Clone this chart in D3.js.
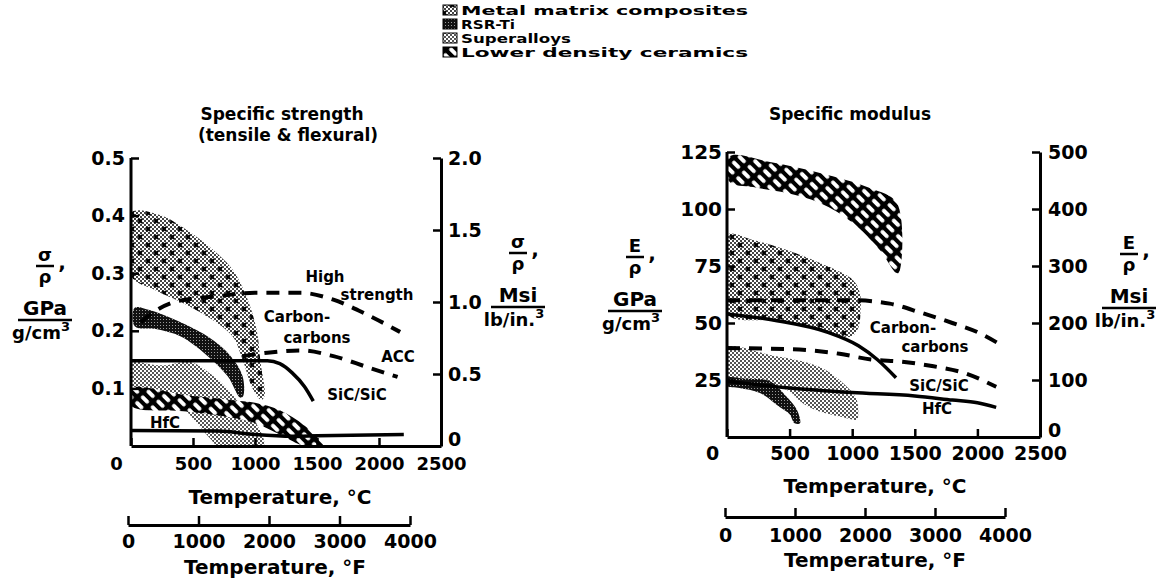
<!DOCTYPE html>
<html><head><meta charset="utf-8">
<script src="https://cdn.jsdelivr.net/npm/d3@7"></script>
<style>
body{margin:0;background:#fff}
svg{display:block;background:#fff}
text{font-family:"DejaVu Sans",sans-serif;font-weight:bold;fill:#000}
</style>
</head><body><svg id="c" width="1168" height="585"></svg>
<script>
// ---------- DATA ----------
// Temperature axes
const tempTicksC = [0, 500, 1000, 1500, 2000, 2500];
const tempTicksF = [0, 1000, 2000, 3000, 4000];
// Specific strength panel, GPa/(g/cm3) : [°C, value]
const strengthTicks = [0.1, 0.2, 0.3, 0.4, 0.5];
const strengthTicksMsi = [0, 0.5, 1.0, 1.5, 2.0];
const mmcStrengthUpper = [[0,0.405],[233,0.401],[450,0.375],[659,0.341],[820,0.306],[932,0.259],[1013,0.202],[1045,0.145],[1077,0.087]];
const mmcStrengthLower = [[1050,0.08],[980,0.10],[900,0.15],[820,0.19],[650,0.22],[450,0.245],[200,0.27],[0,0.295]];
const rsrStrengthUpper = [[30,0.24],[150,0.236],[346,0.22],[619,0.19],[804,0.156],[900,0.121],[905,0.087]];
const rsrStrengthLower = [[880,0.084],[780,0.121],[619,0.156],[402,0.19],[200,0.203],[30,0.208]];
const superStrengthUpper = [[0,0.152],[80,0.145],[265,0.14],[480,0.146],[667,0.121],[804,0.093],[908,0.064],[1021,0.035],[1069,0.0]];
const superStrengthLower = [[700,0.0],[650,0.01],[550,0.035],[450,0.06],[300,0.09],[0,0.10]];
const ceramStrengthUpper = [[0,0.10],[450,0.088],[800,0.08],[1000,0.075],[1200,0.062],[1400,0.035],[1550,0.0]];
const ceramStrengthLower = [[1400,0.0],[1200,0.02],[1000,0.04],[800,0.05],[450,0.06],[0,0.07]];
const sicStrength = [[0,0.148],[600,0.148],[1100,0.148],[1200,0.143],[1300,0.127],[1400,0.103],[1470,0.078]];
const hfcStrength = [[0,0.027],[700,0.026],[1000,0.02],[1300,0.017],[1500,0.018],[2200,0.02]];
const hsccStrength = [[80,0.215],[200,0.235],[350,0.25],[700,0.26],[1000,0.266],[1367,0.266],[1632,0.254],[1905,0.228],[2170,0.198]];
const accStrength = [[900,0.156],[1100,0.162],[1367,0.166],[1632,0.156],[1905,0.137],[2150,0.12]];
// Specific modulus panel, GPa/(g/cm3) : [°C, value]
const modulusTicks = [25, 50, 75, 100, 125];
const modulusTicksMsi = [0, 100, 200, 300, 400, 500];
const ceramModUpper = [[20,123],[343,120.6],[742,115.8],[1141,109.2],[1357,102.6],[1372,72]];
const ceramModLower = [[1350,72],[1221,82],[1006,93.9],[742,102.6],[479,107],[208,109.6],[20,112]];
const mmcModUpper = [[0,88.6],[208,86.4],[479,82],[742,76.3],[1006,68.9],[1062,63],[1066,55],[1050,48]];
const mmcModLower = [[990,44],[800,46.5],[423,51],[0,54]];
const superModUpper = [[0,39],[343,36],[742,30.7],[958,22],[1038,16],[1045,8]];
const superModLower = [[1040,7.5],[900,9],[700,12],[600,15],[500,20],[350,23],[0,25]];
const rsrModUpper = [[0,25.9],[150,25.5],[343,24.5],[479,17.5],[559,11.8],[583,6]];
const rsrModLower = [[540,6],[500,10],[423,13],[263,19.3],[100,21.5],[0,22.5]];
const hsccMod = [[0,60],[500,60],[1000,60],[1300,58.5],[1550,54.5],[1800,50],[2000,46],[2200,40]];
const accMod = [[0,39],[500,38.5],[900,36.5],[1150,34],[1400,33],[1650,31],[1900,28],[2150,22]];
const sicMod = [[0,54],[400,51],[800,46],[1050,40],[1200,34],[1350,26]];
const hfcMod = [[0,24.5],[500,21.5],[1000,19.5],[1500,18],[1800,16.2],[2000,15],[2150,13]];
// Legend
const legendItems = ["Metal matrix composites","RSR-Ti","Superalloys","Lower density ceramics"];
const legendFills = ["url(#pmmc)","url(#prsr)","url(#psup)","url(#pcer)"];

// ---------- DRAW ----------
const svg = d3.select("#c");
const defs = svg.append("defs");

const pd = defs.append("pattern").attr("id","pdots").attr("patternUnits","userSpaceOnUse").attr("width",4).attr("height",4);
pd.append("rect").attr("x",0).attr("y",0).attr("width",2).attr("height",2).attr("fill","#444");
pd.append("rect").attr("x",2).attr("y",2).attr("width",2).attr("height",2).attr("fill","#444");

const ps = defs.append("pattern").attr("id","psup").attr("patternUnits","userSpaceOnUse").attr("width",4).attr("height",4);
ps.append("rect").attr("x",0).attr("y",0).attr("width",2).attr("height",2).attr("fill","#555");
ps.append("rect").attr("x",2).attr("y",2).attr("width",2).attr("height",2).attr("fill","#555");

const pm = defs.append("pattern").attr("id","pmmc").attr("patternUnits","userSpaceOnUse").attr("width",16).attr("height",16);
pm.append("rect").attr("width",16).attr("height",16).attr("fill","url(#pdots)");
pm.append("path").attr("d","M2,3 l4,4 m0,-4 l-4,4 M10,11 l4,4 m0,-4 l-4,4").attr("stroke","#000").attr("stroke-width",2);

const pr = defs.append("pattern").attr("id","prsr").attr("patternUnits","userSpaceOnUse").attr("width",3).attr("height",3);
pr.append("rect").attr("width",3).attr("height",3).attr("fill","#111");
pr.append("rect").attr("x",1).attr("y",1).attr("width",1).attr("height",1).attr("fill","#999");

const pc = defs.append("pattern").attr("id","pcer").attr("patternUnits","userSpaceOnUse")
  .attr("width",14).attr("height",8).attr("patternTransform","rotate(45)");
pc.append("rect").attr("width",14).attr("height",8).attr("fill","#000");
pc.append("rect").attr("x",2).attr("y",2).attr("width",10).attr("height",4).attr("rx",2).attr("fill","#fff");

function clip(id, x0, y0, x1, y1){
  defs.append("clipPath").attr("id",id).append("rect").attr("x",x0).attr("y",y0).attr("width",x1-x0).attr("height",y1-y0);
}
function region(g, x, y, upper, lower, fill){
  const pts = upper.concat(lower);
  const gen = d3.line().x(d=>x(d[0])).y(d=>y(d[1])).curve(d3.curveCatmullRomClosed.alpha(0.5));
  g.append("path").attr("d", gen(pts)).attr("fill", fill);
}
function curve(g, x, y, data, dashed, w){
  const gen = d3.line().x(d=>x(d[0])).y(d=>y(d[1])).curve(d3.curveMonotoneX);
  g.append("path").attr("d", gen(data)).attr("fill","none").attr("stroke","#000")
    .attr("stroke-width", w).attr("stroke-dasharray", dashed ? "13,9" : null);
}
function label(g, x, y, txt, size, anchor){
  return g.append("text").attr("x",x).attr("y",y).attr("font-size",size)
    .attr("text-anchor",anchor||"middle").text(txt);
}
function styleAxis(a, fs){
  a.select(".domain").attr("stroke-width",3).attr("stroke","#000");
  a.selectAll(".tick line").attr("stroke-width",2.5).attr("stroke","#000");
  a.selectAll(".tick text").attr("font-size",fs).attr("font-family","DejaVu Sans, sans-serif")
    .attr("font-weight","bold").attr("fill","#000");
}
function fracLabel(g, cx, sym, unitTop, unitBot, yTop){
  label(g, cx, yTop-2, sym, 18);
  g.append("line").attr("x1",cx-9).attr("x2",cx+9).attr("y1",yTop+3).attr("y2",yTop+3).attr("stroke","#000").attr("stroke-width",2.5);
  label(g, cx, yTop+20, "ρ", 18);
  label(g, cx+17, yTop+6, ",", 20);
  label(g, cx, yTop+52, unitTop, 20);
  g.append("line").attr("x1",cx-27).attr("x2",cx+27).attr("y1",yTop+57).attr("y2",yTop+57).attr("stroke","#000").attr("stroke-width",2.5);
  const t = label(g, cx-4, yTop+76, unitBot, 18);
  t.append("tspan").attr("font-size",13).attr("dy",-8).text("3");
}

// ===== Left panel: specific strength =====
const xL = d3.scaleLinear().domain([0,2500]).range([131,441]);
const yL = d3.scaleLinear().domain([0,0.5]).range([446,158]);
const yL2 = d3.scaleLinear().domain([0,2.0]).range([446,158]);
const fL = d3.scaleLinear().domain([0,4000]).range([128,410]);
clip("clipL", 131, 158, 441, 446);
const gL = svg.append("g");
const gLd = gL.append("g").attr("clip-path","url(#clipL)");

region(gLd, xL, yL, mmcStrengthUpper, mmcStrengthLower, "url(#pmmc)");
region(gLd, xL, yL, superStrengthUpper, superStrengthLower, "url(#psup)");
region(gLd, xL, yL, ceramStrengthUpper, ceramStrengthLower, "url(#pcer)");
region(gLd, xL, yL, rsrStrengthUpper, rsrStrengthLower, "url(#prsr)");
curve(gLd, xL, yL, hsccStrength, true, 4);
curve(gLd, xL, yL, accStrength, true, 4);
curve(gLd, xL, yL, sicStrength, false, 3.5);
curve(gLd, xL, yL, hfcStrength, false, 3.5);

let a;
a = gL.append("g").attr("transform",`translate(0,${yL(0)})`)
  .call(d3.axisBottom(xL).tickValues(tempTicksC).tickSizeInner(-8).tickSizeOuter(0).tickPadding(11).tickFormat(d3.format("d")));
styleAxis(a, 18);
a.selectAll(".tick text").filter(d=>d===0).attr("dx",-15);
a = gL.append("g").attr("transform",`translate(${xL(0)},0)`)
  .call(d3.axisLeft(yL).tickValues(strengthTicks).tickSizeInner(-8).tickSizeOuter(0).tickPadding(6).tickFormat(d3.format(".1f")));
a.select(".domain").attr("d",`M0,${yL(0)}V${yL(0.5)}`);
styleAxis(a, 19);
a = gL.append("g").attr("transform",`translate(${xL(2500)},0)`)
  .call(d3.axisRight(yL2).tickValues(strengthTicksMsi).tickSizeInner(-8).tickSizeOuter(0).tickPadding(7).tickFormat(d=>d===0?"0":d.toFixed(1)));
styleAxis(a, 19);
a.selectAll(".tick text").filter(d=>d===0).attr("dy","-0.05em");
a = gL.append("g").attr("transform","translate(0,525)")
  .call(d3.axisBottom(fL).tickValues(tempTicksF).tickSizeInner(-9).tickSizeOuter(0).tickPadding(9.5).tickFormat(d3.format("d")));
styleAxis(a, 19);

label(gL, 280, 504, "Temperature, °C", 20);
label(gL, 275, 574, "Temperature, °F", 20);
label(gL, 282, 120, "Specific strength", 17);
label(gL, 288, 141, "(tensile & flexural)", 17);
fracLabel(gL, 45, "σ", "GPa", "g/cm", 263);
fracLabel(gL, 518, "σ", "Msi", "lb/in.", 250);

label(gL, 325, 282, "High", 15);
label(gL, 377, 300, "strength", 15);
label(gL, 297, 322, "Carbon-", 15);
label(gL, 317, 343, "carbons", 15);
label(gL, 398, 362, "ACC", 15);
label(gL, 357, 400, "SiC/SiC", 15);
label(gL, 165, 428, "HfC", 15);

// ===== Right panel: specific modulus =====
const xR = d3.scaleLinear().domain([0,2500]).range([727,1040]);
const yR = d3.scaleLinear().domain([0,125]).range([437,152]);
const yR2 = d3.scaleLinear().domain([0,500]).range([437,152]);
const fR = d3.scaleLinear().domain([0,4000]).range([725,1005]);
clip("clipR", 727, 152, 1040, 437);
const gR = svg.append("g");
const gRd = gR.append("g").attr("clip-path","url(#clipR)");

region(gRd, xR, yR, ceramModUpper, ceramModLower, "url(#pcer)");
region(gRd, xR, yR, mmcModUpper, mmcModLower, "url(#pmmc)");
region(gRd, xR, yR, superModUpper, superModLower, "url(#psup)");
region(gRd, xR, yR, rsrModUpper, rsrModLower, "url(#prsr)");
curve(gRd, xR, yR, hsccMod, true, 4);
curve(gRd, xR, yR, accMod, true, 4);
curve(gRd, xR, yR, sicMod, false, 3.5);
curve(gRd, xR, yR, hfcMod, false, 3.5);

a = gR.append("g").attr("transform",`translate(0,${yR(0)})`)
  .call(d3.axisBottom(xR).tickValues(tempTicksC).tickSizeInner(-8).tickSizeOuter(0).tickPadding(9.5).tickFormat(d3.format("d")));
styleAxis(a, 19);
a.selectAll(".tick text").filter(d=>d===0).attr("dx",-15);
a = gR.append("g").attr("transform",`translate(${xR(0)},0)`)
  .call(d3.axisLeft(yR).tickValues(modulusTicks).tickSizeInner(-8).tickSizeOuter(0).tickPadding(5).tickFormat(d3.format("d")));
a.select(".domain").attr("d",`M0,${yR(0)}V${yR(125)}`);
styleAxis(a, 20);
a = gR.append("g").attr("transform",`translate(${xR(2500)},0)`)
  .call(d3.axisRight(yR2).tickValues(modulusTicksMsi).tickSizeInner(-8).tickSizeOuter(0).tickPadding(8).tickFormat(d3.format("d")));
styleAxis(a, 19);
a.selectAll(".tick text").filter(d=>d===0).attr("dy","-0.05em");
a = gR.append("g").attr("transform","translate(0,517)")
  .call(d3.axisBottom(fR).tickValues(tempTicksF).tickSizeInner(-9).tickSizeOuter(0).tickPadding(11.5).tickFormat(d3.format("d")));
styleAxis(a, 19);

label(gR, 875, 493, "Temperature, °C", 20);
label(gR, 875, 567, "Temperature, °F", 20);
label(gR, 850, 120, "Specific modulus", 17);
fracLabel(gR, 635, "E", "GPa", "g/cm", 254);
fracLabel(gR, 1129, "E", "Msi", "lb/in.", 251);

label(gR, 903, 333, "Carbon-", 15);
label(gR, 935, 352, "carbons", 15);
label(gR, 939, 391, "SiC/SiC", 15);
label(gR, 937, 414, "HfC", 15);

// ===== Legend =====
const gLeg = svg.append("g");
const legBase = [15, 29, 43, 57];
const legW = [287, 54, 110, 287];
legendItems.forEach((name,i)=>{
  gLeg.append("rect").attr("x",443).attr("y",legBase[i]-10).attr("width",14).attr("height",10)
    .attr("fill",legendFills[i]).attr("stroke","#000").attr("stroke-width",1);
  label(gLeg, 461, legBase[i], name, 12, "start")
    .attr("textLength", legW[i]).attr("lengthAdjust","spacingAndGlyphs");
});
</script></body></html>
